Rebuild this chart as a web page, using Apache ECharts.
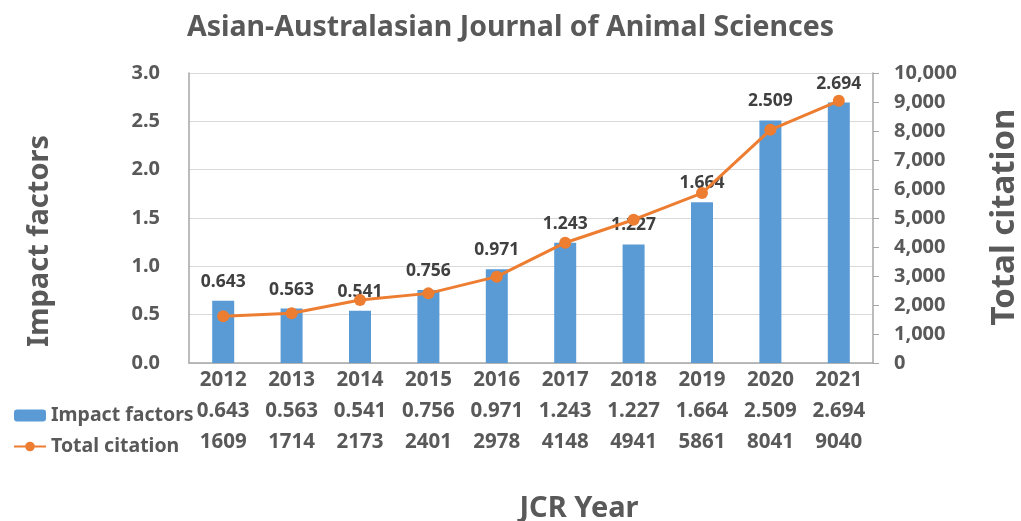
<!DOCTYPE html>
<html>
<head>
<meta charset="utf-8">
<script src="https://cdn.jsdelivr.net/npm/echarts@6/dist/echarts.min.js"></script>
<style>html,body{margin:0;padding:0;background:#fff;}#c{width:1021px;height:521px;}</style>
</head>
<body>
<div id="c"></div>
<script>
var years = ['2012','2013','2014','2015','2016','2017','2018','2019','2020','2021'];
var impactFactors = [0.643,0.563,0.541,0.756,0.971,1.243,1.227,1.664,2.509,2.694];
var totalCitation = [1609,1714,2173,2401,2978,4148,4941,5861,8041,9040];
var leftTicks = {min:0, max:3, interval:0.5};
var rightTicks = {min:0, max:10000, interval:1000};

var FONT = '"Noto Sans", "Open Sans", sans-serif';
var TXT = '#595959';
var chart = echarts.init(document.getElementById('c'));
chart.setOption({
  animation:false,
  backgroundColor:'#fff',
  textStyle:{fontFamily:FONT},
  title:{text:'Asian-Australasian Journal of Animal Sciences', left:'center', top:8,
    textStyle:{fontFamily:FONT, fontSize:28.5, fontWeight:'bold', color:TXT}},
  legend:{orient:'vertical', left:8, top:400, itemWidth:32, itemHeight:12, itemGap:10,
    data:['Impact factors','Total citation'],
    textStyle:{fontFamily:FONT, fontSize:19.5, fontWeight:'bold', color:TXT, lineHeight:21}},
  grid:{left:189, right:148, top:73, bottom:158},
  xAxis:{type:'category', data:years,
    axisLine:{lineStyle:{color:'#A6A6A6', width:1.5}},
    axisTick:{show:false},
    axisLabel:{margin:2, interval:0,
      formatter:function(v, i){ return '{y|'+v+'}\n{v|'+impactFactors[i].toFixed(3)+'}\n{v|'+totalCitation[i]+'}'; },
      rich:{y:{fontFamily:FONT,fontSize:20.5,fontWeight:'bold',color:TXT,lineHeight:31},
            v:{fontFamily:FONT,fontSize:20.5,fontWeight:'bold',color:TXT,lineHeight:31}}}
  },
  yAxis:[
    {type:'value', min:leftTicks.min, max:leftTicks.max, interval:leftTicks.interval,
     axisLine:{show:true, lineStyle:{color:'#A6A6A6', width:1.5}},
     axisTick:{show:false},
     splitLine:{lineStyle:{color:'#D9D9D9', width:1}},
     axisLabel:{margin:29, fontFamily:FONT, fontSize:20, fontWeight:'bold', color:TXT,
       formatter:function(v){return v.toFixed(1);}}},
    {type:'value', min:rightTicks.min, max:rightTicks.max, interval:rightTicks.interval, position:'right',
     axisLine:{show:true, lineStyle:{color:'#A6A6A6', width:1.5}},
     axisTick:{show:true, length:6, lineStyle:{color:'#A6A6A6'}},
     splitLine:{show:false},
     axisLabel:{margin:21, fontFamily:FONT, fontSize:20, fontWeight:'bold', color:TXT,
       formatter:function(v){return v.toLocaleString('en-US');}}}
  ],
  graphic:[
    {type:'text', rotation:Math.PI/2, x:40, y:241, style:{text:'Impact factors', fontFamily:FONT, fontSize:29, fontWeight:'bold', fill:TXT, textAlign:'center', textVerticalAlign:'middle'}},
    {type:'text', rotation:Math.PI/2, x:1005, y:217, style:{text:'Total citation', fontFamily:FONT, fontSize:33, fontWeight:'bold', fill:TXT, textAlign:'center', textVerticalAlign:'middle'}},
    {type:'text', x:579, y:509, style:{text:'JCR Year', fontFamily:FONT, fontSize:29, fontWeight:'bold', fill:TXT, textAlign:'center', textVerticalAlign:'middle'}}
  ],
  series:[
    {name:'Impact factors', type:'bar', data:impactFactors, barWidth:22, yAxisIndex:0,
     itemStyle:{color:'#5B9BD5'},
     label:{show:true, position:'top', distance:10, fontFamily:FONT, fontSize:17.5, fontWeight:'bold', color:'#404040',
       formatter:function(p){return p.value.toFixed(3);}}},
    {name:'Total citation', type:'line', data:totalCitation, yAxisIndex:1,
     symbol:'circle', symbolSize:12, z:3,
     lineStyle:{color:'#ED7D31', width:3}, itemStyle:{color:'#ED7D31'}}
  ]
});
</script>
</body>
</html>
